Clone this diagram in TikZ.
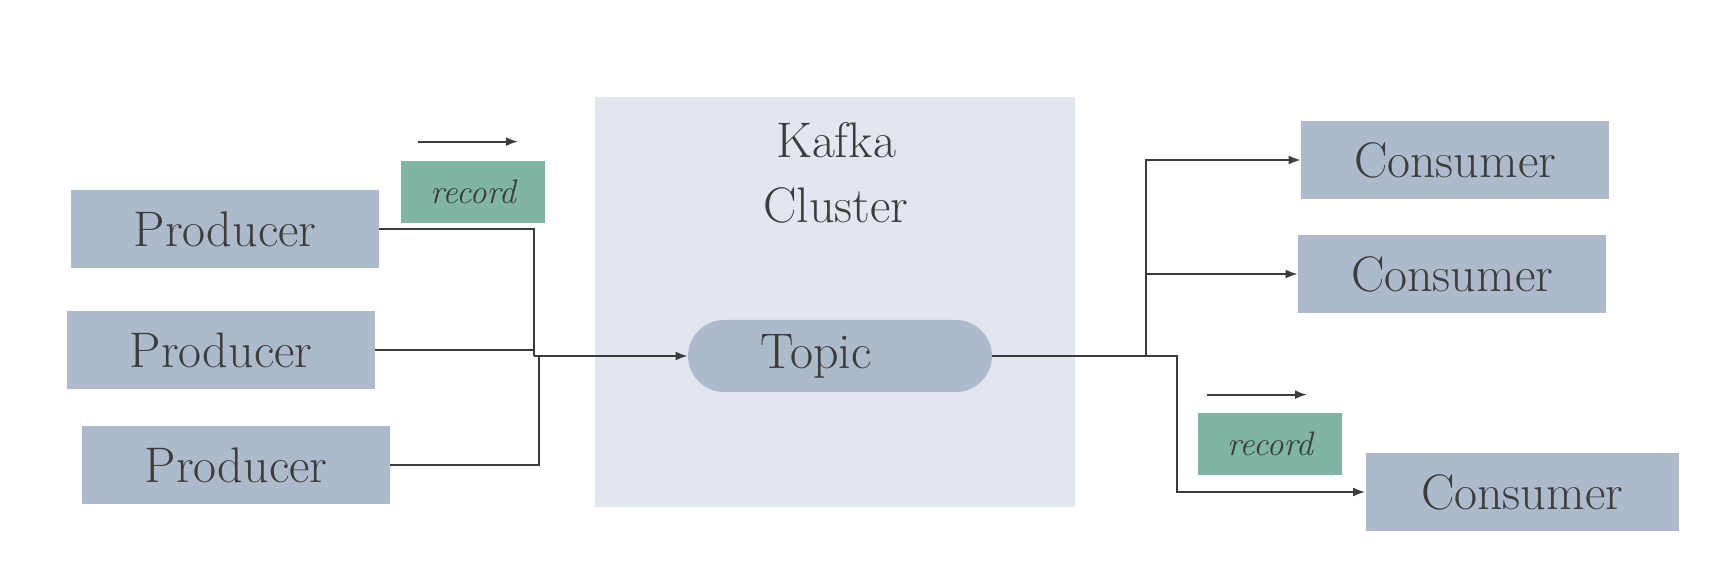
\documentclass[tikz,border=0pt]{standalone}
\usepackage{tikz}
\usetikzlibrary{positioning, arrows.meta}
\definecolor{slateblue}{RGB}{173,186,204}
\definecolor{clustergray}{RGB}{226,230,238}
\definecolor{recordgreen}{RGB}{128,181,166}
\definecolor{inkgray}{RGB}{60,60,60}
\newcommand{\boxcolor}{slateblue}
\newcommand{\bigfont}{\fontsize{25}{32.5}\selectfont}
\tikzstyle{producer} = [rectangle, 
minimum width=154pt, 
minimum height=39pt,
text centered, 
fill=\boxcolor, text=inkgray, font=\bigfont]
\tikzstyle{consumer} = [producer]
\tikzstyle{topicbox} = [rectangle, rounded corners=18pt,
minimum width=152pt, 
minimum height=36pt,
fill=\boxcolor, text=inkgray, font=\bigfont]
\tikzstyle{recordbox} = [rectangle, 
minimum width=72pt, 
minimum height=31pt,
fill=recordgreen, text=inkgray, 
font=\fontsize{17}{20}\selectfont\itshape]
\tikzstyle{cluster} = [rectangle, 
minimum width=240pt, 
minimum height=205pt, 
fill=clustergray]
\tikzstyle{line} = [draw=inkgray, line width=1pt]
\tikzstyle{arrow} = [line, -{Latex[length=6pt,width=4.5pt]}]

\begin{document}
\begin{tikzpicture}[x=0.5pt, y=-0.5pt]
\useasboundingbox (0,0) rectangle (1736,588);

%-----------the cluster
\node (cluster) [cluster] at (835,302) {};
\node (title) [text=inkgray, font=\bigfont, align=center] at (836,173) {Kafka\\Cluster};
\node (topic) [topicbox] at (840,356) {Topic\hspace*{24pt}};

%-----------producers
\node (prod1) [producer] at (225,229) {Producer};
\node (prod2) [producer] at (221,350) {Producer};
\node (prod3) [producer] at (236,465) {Producer};
\node (rec1) [recordbox] at (473,192) {record};

%-----------consumers
\node (cons1) [consumer] at (1455,160) {Consumer};
\node (cons2) [consumer] at (1452,274) {Consumer};
\node (cons3) [consumer, minimum width=156.5pt] at (1522,492) {Consumer};
\node (rec2) [recordbox] at (1270,444) {record};

%-----------junctions
\coordinate (join) at (534,356);
\coordinate (split) at (1146,356);
\coordinate (fork) at (1177,356);
\coordinate (flow1) at ([shift={(-55,-19)}]rec1.north);
\coordinate (flow2) at ([shift={(-63,-18)}]rec2.north);

\draw [line] (prod1.east) -| (join);
\draw [line] (prod2.east) -| (join);
\draw [line] (prod3.east) -| ([xshift=2.5pt]join);
\draw [arrow] (join) -- (topic);
\draw [line] (topic) -- (split);
\draw [arrow] (split) |- (cons1);
\draw [arrow] (split) |- (cons2);
\draw [arrow] (split) -- (fork) |- (cons3);

\draw [arrow] (flow1) -- ++(100,0);
\draw [arrow] (flow2) -- ++(100,0);

\end{tikzpicture}
\end{document}
